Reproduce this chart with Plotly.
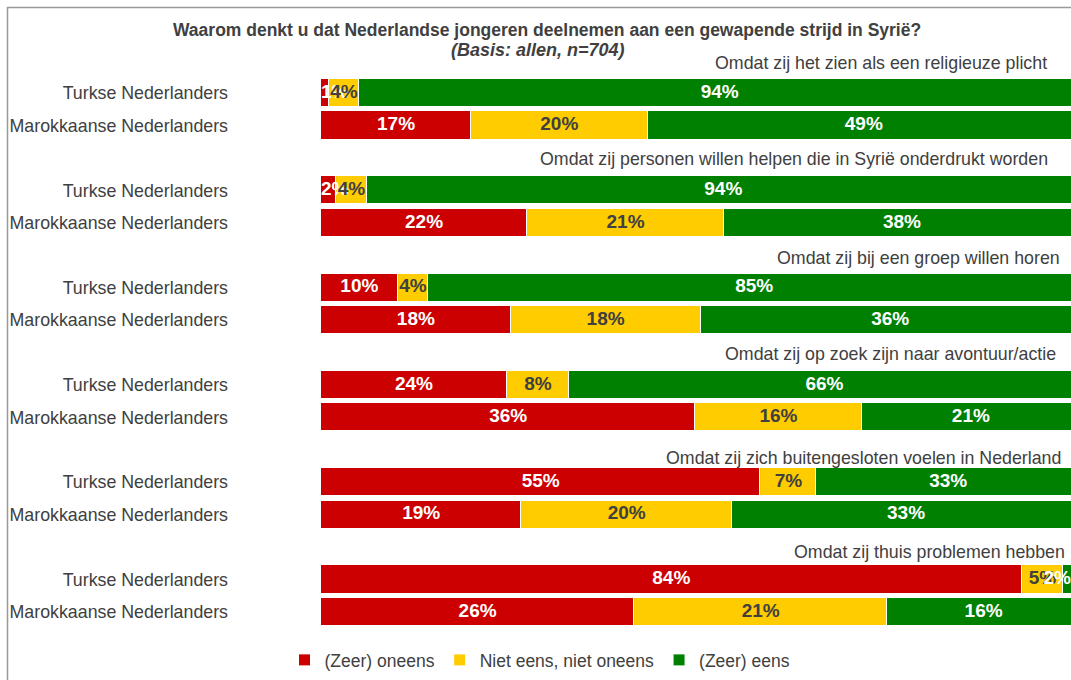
import plotly.graph_objects as go

# ---------------- data ----------------
statements = [
    "Omdat zij het zien als een religieuze plicht",
    "Omdat zij personen willen helpen die in Syrië onderdrukt worden",
    "Omdat zij bij een groep willen horen",
    "Omdat zij op zoek zijn naar avontuur/actie",
    "Omdat zij zich buitengesloten voelen in Nederland",
    "Omdat zij thuis problemen hebben",
]
groups = ["Turkse Nederlanders", "Marokkaanse Nederlanders"]
answers = ["(Zeer) oneens", "Niet eens, niet oneens", "(Zeer) eens"]

turks_oneens = [1, 2, 10, 24, 55, 84]
turks_neutraal = [4, 4, 4, 8, 7, 5]
turks_eens = [94, 94, 85, 66, 33, 2]

marok_oneens = [17, 22, 18, 36, 19, 26]
marok_neutraal = [20, 21, 18, 16, 20, 21]
marok_eens = [49, 38, 36, 21, 33, 16]

title = "Waarom denkt u dat Nederlandse jongeren deelnemen aan een gewapende strijd in Syrië?"
subtitle = "(Basis: allen, n=704)"

# ---------------- styles / layout ----------------
colors = ["#CC0000", "#FFCC00", "#008000"]
text_colors = ["#FFFFFF", "#404040", "#FFFFFF"]
gray = "#404040"
font_family = "Liberation Sans, Arial, sans-serif"

W, H = 1071, 680
ml, mr, mt, mb = 321, 0, 40, 40
plot_w = W - ml - mr
plot_h = H - mt - mb
full_bar_px = 759                      # full (100%) bar length in pixels
px_per_unit = full_bar_px / 100.0
label_half_px = 11                     # approx half-width of a "9%" label
x_max = 100 * plot_w / full_bar_px

heading_right_px = [1049, 1050, 1062, 1058, 1063, 1067]
heading_offset = [0.92, 0.95, 0.9, 0.95, 0.76, 0.86]

# rows: per statement Turkse at 3*g, Marokkaanse at 3*g+1
ypos, ylabels = [], []
vals = [[], [], []]
bases = [[], [], []]
raw = [[], [], []]
for g in range(len(statements)):
    for gi, series in enumerate([(turks_oneens, turks_neutraal, turks_eens),
                                 (marok_oneens, marok_neutraal, marok_eens)]):
        ypos.append(3 * g + gi)
        ylabels.append(groups[gi])
        tot = sum(s[g] for s in series)
        acc = 0.0
        for k in range(3):
            v = series[k][g] / tot * 100
            vals[k].append(v)
            bases[k].append(acc)
            acc += v
            raw[k].append(series[k][g])

fig = go.Figure()
for k in range(3):
    fig.add_trace(go.Bar(
        y=ypos, x=vals[k], orientation="h", name=answers[k],
        marker=dict(color=colors[k], line=dict(color="white", width=1)),
        width=0.87, hoverinfo="skip",
    ))

# value labels drawn on top of all bars, centred on each segment,
# kept inside the visible plot area at both ends
half = label_half_px / px_per_unit
for k in range(3):
    xs, pos = [], []
    for b, v in zip(bases[k], vals[k]):
        c = b + v / 2
        if c - half < 0:
            xs.append(0); pos.append("middle right")
        elif c + half > x_max:
            xs.append(x_max); pos.append("middle left")
        else:
            xs.append(c); pos.append("middle center")
    fig.add_trace(go.Scatter(
        y=ypos, x=xs, mode="text", text=[f"{v}%" for v in raw[k]],
        textposition=pos,
        textfont=dict(color=text_colors[k], size=19, family=font_family, weight="bold"),
        showlegend=False, hoverinfo="skip", cliponaxis=False,
    ))

annotations = []
for g, s in enumerate(statements):
    annotations.append(dict(
        x=(heading_right_px[g] - ml) / plot_w, xref="paper", xanchor="right",
        y=3 * g - heading_offset[g], yref="y", yanchor="middle",
        text=s, showarrow=False,
        font=dict(size=17.8, color=gray, family=font_family),
    ))
annotations.append(dict(
    x=(547 - ml) / plot_w, xref="paper", xanchor="center",
    y=(H - mb - 30) / plot_h, yref="paper", yanchor="middle",
    text=f"<b>{title}</b>", showarrow=False,
    font=dict(size=17.5, color=gray, family=font_family),
))
annotations.append(dict(
    x=(538 - ml) / plot_w, xref="paper", xanchor="center",
    y=(H - mb - 50) / plot_h, yref="paper", yanchor="middle",
    text=f"<b><i>{subtitle}</i></b>", showarrow=False,
    font=dict(size=18, color=gray, family=font_family),
))

unit = 32.44
top_row_px, bottom_row_px = 93, 612
y_top = -(top_row_px - mt) / unit
y_bot = max(ypos) + (H - mb - bottom_row_px) / unit

fig.update_layout(
    width=W, height=H,
    margin=dict(l=ml, r=mr, t=mt, b=mb, pad=0),
    paper_bgcolor="white", plot_bgcolor="white",
    barmode="stack", bargap=0,
    showlegend=True,
    legend=dict(orientation="h", x=(540 - ml) / plot_w, xanchor="center",
                y=(H - mb - 660) / plot_h, yanchor="middle",
                font=dict(size=17.5, color=gray, family=font_family),
                traceorder="normal"),
    xaxis=dict(range=[0, x_max], visible=False, fixedrange=True),
    yaxis=dict(range=[y_bot, y_top], tickvals=ypos, ticktext=ylabels,
               showgrid=False, zeroline=False, showline=False, ticks="",
               ticklabelstandoff=92,
               tickfont=dict(size=17.8, color=gray, family=font_family)),
    annotations=annotations,
    shapes=[dict(type="rect", xref="paper", yref="paper",
                 x0=(7.5 - ml) / plot_w, x1=1.2,
                 y0=-1, y1=(H - mb - 7.5) / plot_h,
                 line=dict(color="#999999", width=1.5), fillcolor="rgba(0,0,0,0)",
                 layer="above")],
    font=dict(family=font_family, color=gray),
)

fig.write_html("out.html", config={"displayModeBar": False},
               post_script="document.body.style.margin='0';document.body.style.overflow='hidden';")
